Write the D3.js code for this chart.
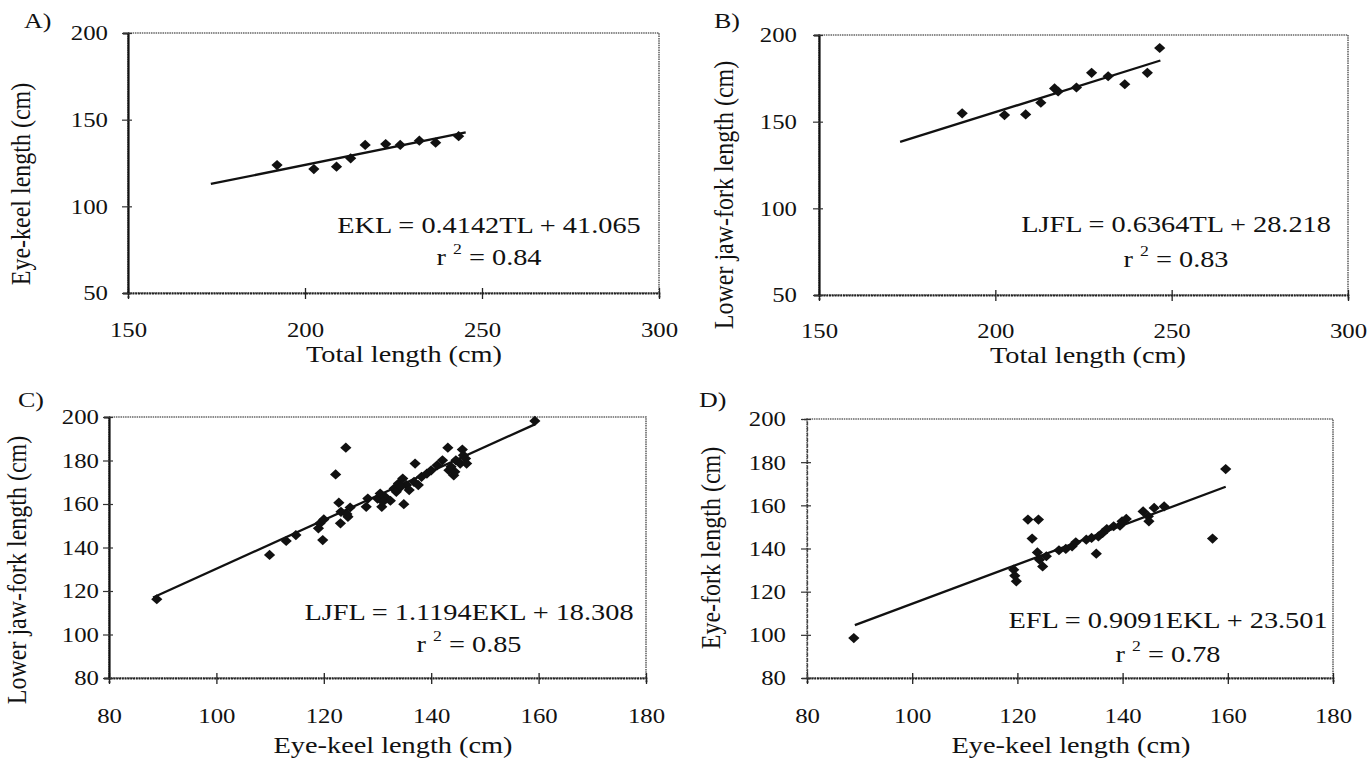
<!DOCTYPE html>
<html>
<head>
<meta charset="utf-8">
<script src="https://cdn.jsdelivr.net/npm/d3@7"></script>
<style>
  body { margin: 0; background: #fff; }
  text { font-family: "Liberation Serif", "Times New Roman", serif; fill: #111; }
</style>
</head>
<body>
<svg id="chart" width="1372" height="761"></svg>
<script>
// values
const abXTicks = [150, 200, 250, 300];
const abYTicks = [50, 100, 150, 200];
const cdXTicks = [80, 100, 120, 140, 160, 180];
const cdYTicks = [80, 100, 120, 140, 160, 180, 200];

// A) total length vs eye-keel length
const aTL  = [192.1, 202.5, 208.9, 212.9, 217.0, 222.8, 226.9, 232.3, 236.9, 243.4];
const aEKL = [123.8, 121.5, 122.9, 127.7, 135.4, 135.9, 135.4, 137.9, 136.7, 140.5];

// B) total length vs lower jaw-fork length
const bTL   = [190.6, 202.6, 208.6, 212.9, 216.8, 217.8, 223.0, 227.3, 232.0, 236.7, 243.1, 246.6];
const bLJFL = [154.8, 153.8, 154.2, 160.9, 169.2, 167.4, 169.7, 178.2, 176.2, 171.6, 178.2, 192.5];

// C) eye-keel length vs lower jaw-fork length
const cEKL  = [88.9, 109.9, 113.0, 114.8, 119.0, 119.3, 120.0, 119.8, 122.2, 124.1,
               122.8, 123.1, 123.2, 124.5, 124.9, 124.3, 127.9, 128.2, 130.0, 130.8,
               130.5, 131.4, 132.4, 133.1, 133.9, 134.9, 134.7, 135.4, 135.9, 136.8,
               137.0, 137.6, 138.2, 139.2, 140.0, 141.1, 142.1, 143.1, 143.7, 144.2,
               144.6, 145.4, 145.8, 146.0, 146.4, 146.6, 159.3, 131.0, 133.5, 134.3,
               143.3, 144.4];
const cLJFL = [116.2, 136.6, 143.0, 145.7, 148.8, 151.1, 152.9, 143.4, 173.6, 185.9,
               160.6, 151.1, 156.4, 154.1, 158.4, 155.4, 158.7, 162.5, 162.5, 158.7,
               164.8, 163.3, 161.5, 167.1, 169.4, 159.9, 171.7, 168.7, 166.4, 170.2,
               178.6, 168.7, 172.5, 174.0, 175.5, 177.8, 180.1, 185.9, 177.1, 173.2,
               180.1, 178.6, 185.0, 182.4, 180.9, 178.6, 198.2, 161.0, 165.6, 167.9,
               175.5, 174.8];

// D) eye-keel length vs eye-fork length
const dEKL = [88.9, 119.3, 119.5, 119.8, 122.0, 124.0, 122.8, 123.8, 124.2, 124.8,
              125.5, 127.9, 129.2, 130.4, 131.1, 133.1, 134.1, 135.0, 135.4, 136.2,
              137.0, 138.3, 139.5, 139.9, 140.7, 143.9, 144.9, 145.0, 146.0, 147.9,
              157.1, 159.6];
const dEFL = [98.5, 130.2, 127.4, 124.8, 153.4, 153.4, 144.6, 138.2, 134.8, 131.7,
              136.4, 139.2, 139.8, 141.0, 142.9, 144.1, 144.9, 137.6, 145.6, 147.2,
              149.0, 150.3, 150.6, 152.6, 153.7, 157.2, 154.9, 152.6, 158.8, 159.5,
              144.6, 176.8];

// fitted lines: slope, intercept, x range drawn
const aFit = [0.4142, 41.065], aFitX = [173.4, 245.4];
const bFit = [0.6364, 28.218], bFitX = [173.0, 246.8];
const cFit = [1.1194, 18.308], cFitX = [88.2, 159.3];
const dFit = [0.9091, 23.501], dFitX = [89.1, 159.6];

const labels = ["A)", "B)", "C)", "D)"];
const equations = ["EKL = 0.4142TL + 41.065", "LJFL = 0.6364TL + 28.218",
                   "LJFL = 1.1194EKL + 18.308", "EFL = 0.9091EKL + 23.501"];
const rSquared = ["0.84", "0.83", "0.85", "0.78"];
const xTitles = ["Total length (cm)", "Total length (cm)", "Eye-keel length (cm)", "Eye-keel length (cm)"];
const yTitles = ["Eye-keel length (cm)", "Lower jaw-fork length (cm)", "Lower jaw-fork length (cm)", "Eye-fork length (cm)"];

const SX = 1.18; // the scan is stretched sideways

const svg = d3.select("#chart");

const panels = [
  { l: 128, t: 33, r: 659, b: 293, xd: [150, 300], yd: [50, 200], xt: abXTicks, yt: abYTicks,
    xs: aTL, ys: aEKL, fit: aFit, fitX: aFitX, gap: 20,
    lab: [24, 28], eq: [489, 233, 265], xTitle: [404, 362], yTitle: [30, 184], xLab: 337 },
  { l: 819, t: 35, r: 1348, b: 295, xd: [150, 300], yd: [50, 200], xt: abXTicks, yt: abYTicks,
    xs: bTL, ys: bLJFL, fit: bFit, fitX: bFitX, gap: 22,
    lab: [714, 28], eq: [1176, 232, 267], xTitle: [1088, 363], yTitle: [733, 195], xLab: 338 },
  { l: 109, t: 417, r: 646, b: 678, xd: [80, 180], yd: [80, 200], xt: cdXTicks, yt: cdYTicks,
    xs: cEKL, ys: cLJFL, fit: cFit, fitX: cFitX, gap: 10,
    lab: [18, 407], eq: [469, 620, 652], xTitle: [393, 753], yTitle: [26, 570], xLab: 723 },
  { l: 807, t: 419, r: 1333, b: 678, xd: [80, 180], yd: [80, 200], xt: cdXTicks, yt: cdYTicks,
    xs: dEKL, ys: dEFL, fit: dFit, fitX: dFitX, gap: 21,
    lab: [699, 407], eq: [1168, 628, 662], xTitle: [1071, 753], yTitle: [720, 548], xLab: 723 }
];

panels.forEach((p, i) => {
  const x = d3.scaleLinear().domain(p.xd).range([p.l, p.r]);
  const y = d3.scaleLinear().domain(p.yd).range([p.b, p.t]);
  const g = svg.append("g");

  // plot area border (grey, dotted in the scan)
  g.append("rect")
    .attr("x", p.l).attr("y", p.t)
    .attr("width", p.r - p.l).attr("height", p.b - p.t)
    .attr("fill", "none")
    .attr("stroke", "#666")
    .attr("stroke-width", 1.6)
    .attr("stroke-dasharray", "1.5,0.8");

  // bottom axis
  const xa = g.append("g")
    .attr("transform", `translate(0,${p.b})`)
    .call(d3.axisBottom(x).tickValues(p.xt).tickSize(5));
  xa.select(".domain").attr("stroke", "#222").attr("stroke-width", 1.8).attr("stroke-dasharray", "2,0.8");
  xa.selectAll(".tick line").attr("y1", -5).attr("y2", 6).attr("stroke", "#222").attr("stroke-width", 1.3);
  xa.selectAll(".tick text")
    .attr("y", 0).attr("dy", 0)
    .attr("transform", `translate(0,${p.xLab - p.b}) scale(${SX},1)`)
    .attr("font-size", 21)
    .attr("font-family", "Liberation Serif, Times New Roman, serif")
    .attr("fill", "#111");

  // left axis
  const ya = g.append("g")
    .attr("transform", `translate(${p.l},0)`)
    .call(d3.axisLeft(y).tickValues(p.yt).tickSize(5));
  ya.select(".domain").attr("stroke", i === 3 ? "#444" : "#111")
    .attr("stroke-width", i === 3 ? 1.3 : 2.2)
    .attr("stroke-dasharray", i === 3 ? "4,1.5" : null);
  ya.selectAll(".tick line").attr("x1", -6).attr("x2", 4).attr("stroke", "#333").attr("stroke-width", 1.2);
  ya.selectAll(".tick text")
    .attr("x", 0).attr("dy", "0.33em")
    .attr("transform", `translate(${-p.gap},0) scale(${SX},1)`)
    .attr("font-size", 21)
    .attr("font-family", "Liberation Serif, Times New Roman, serif")
    .attr("fill", "#111");

  // trend line
  const line = d3.line().x(d => x(d)).y(d => y(p.fit[0] * d + p.fit[1]));
  g.append("path")
    .datum(p.fitX)
    .attr("d", line)
    .attr("fill", "none")
    .attr("stroke", "#111")
    .attr("stroke-width", 2.3);

  // diamonds
  const diamond = d3.symbol().type(d3.symbolSquare).size(52);
  g.selectAll(".pt")
    .data(p.xs.map((v, k) => [v, p.ys[k]]))
    .join("path")
    .attr("class", "pt")
    .attr("d", diamond)
    .attr("transform", d => `translate(${x(d[0])},${y(d[1])}) scale(1.1,1) rotate(45)`)
    .attr("fill", "#111");

  // panel letter
  g.append("text")
    .attr("transform", `translate(${p.lab[0]},${p.lab[1]}) scale(${SX},1)`)
    .attr("font-size", 22)
    .text(labels[i]);

  // equation and r^2
  g.append("text")
    .attr("transform", `translate(${p.eq[0]},${p.eq[1]}) scale(${SX},1)`)
    .attr("text-anchor", "middle")
    .attr("font-size", 24)
    .text(equations[i]);
  const r2 = g.append("text")
    .attr("transform", `translate(${p.eq[0]},${p.eq[2]}) scale(${SX},1)`)
    .attr("text-anchor", "middle")
    .attr("font-size", 24);
  r2.append("tspan").text("r ");
  r2.append("tspan").attr("font-size", 15).attr("dy", -11).text("2");
  r2.append("tspan").attr("dy", 11).text(" = " + rSquared[i]);

  // axis titles
  g.append("text")
    .attr("transform", `translate(${p.xTitle[0]},${p.xTitle[1]}) scale(${SX},1)`)
    .attr("text-anchor", "middle")
    .attr("font-size", 24)
    .text(xTitles[i]);
  g.append("text")
    .attr("transform", `translate(${p.yTitle[0]},${p.yTitle[1]}) scale(1.12,1) rotate(-90)`)
    .attr("text-anchor", "middle")
    .attr("font-size", 24)
    .text(yTitles[i]);
});
</script>
</body>
</html>
